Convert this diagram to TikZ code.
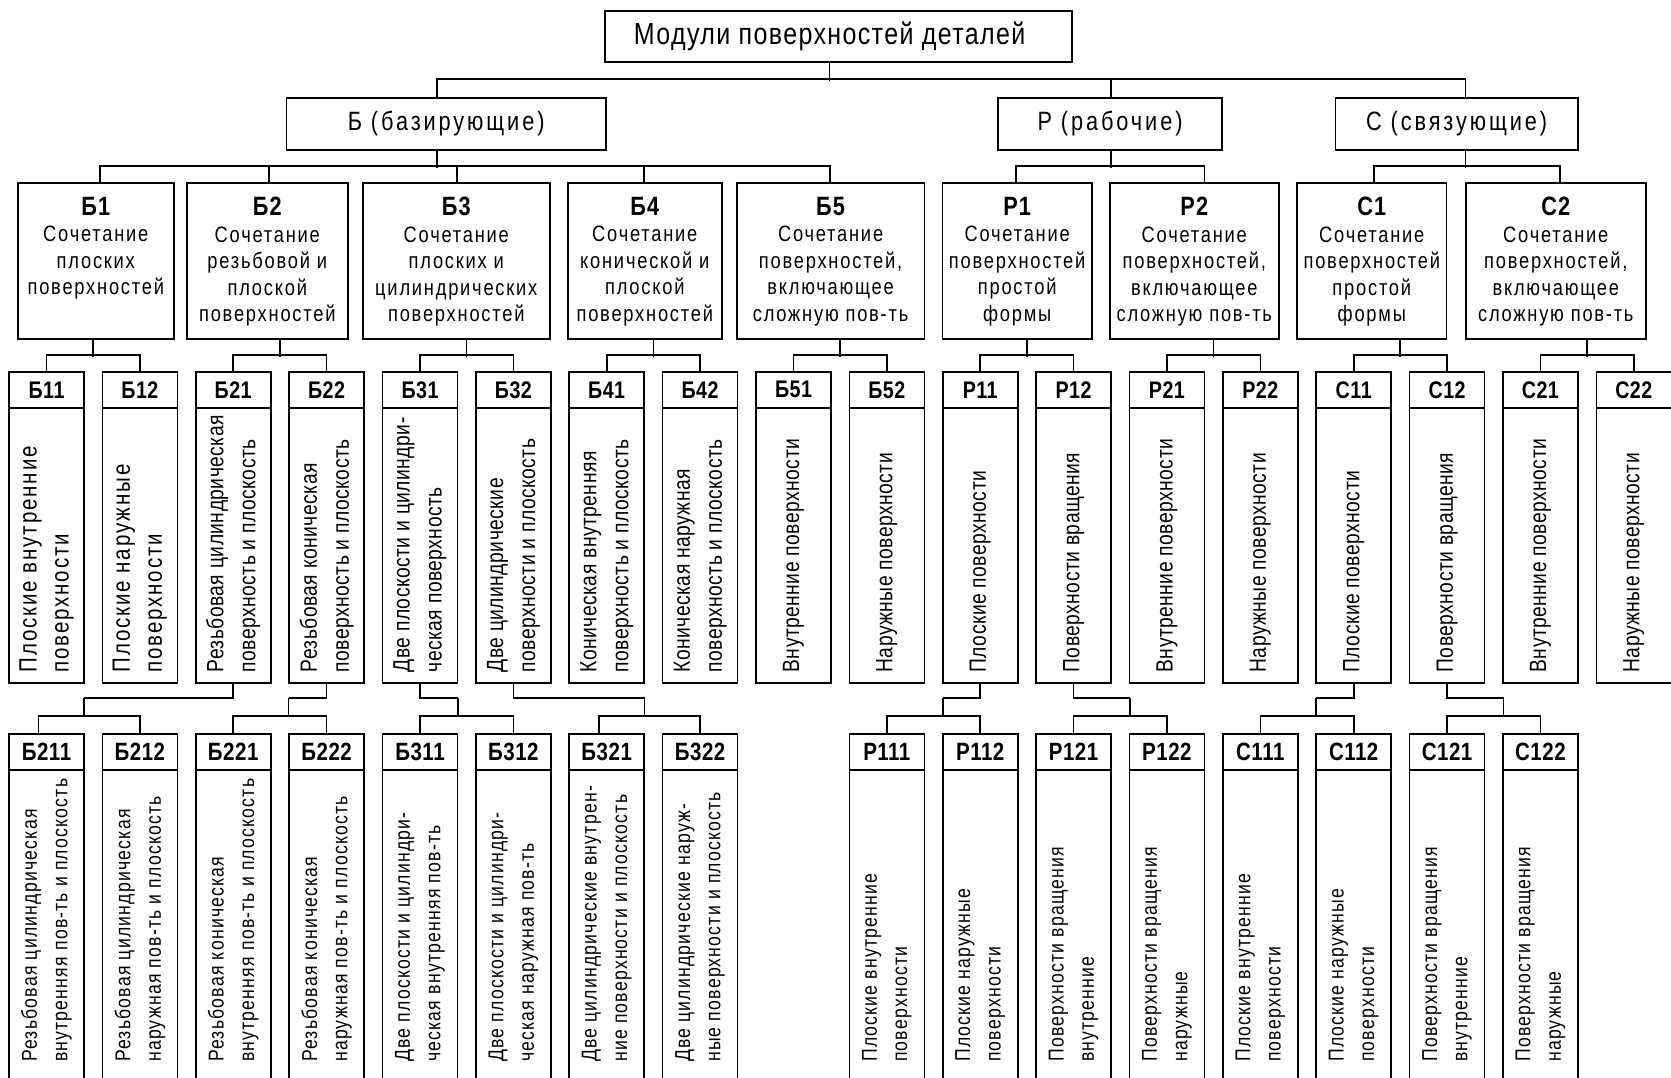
\documentclass[tikz,border=0pt]{standalone}
\usepackage{fontspec}
\setmainfont{Liberation Sans}[FakeStretch=0.82]
\newcommand\lsp[1]{\addfontfeatures{LetterSpace=#1}}
\newcommand\fs[2]{\fontsize{#1}{#2}\selectfont}
\tikzset{
  ln/.style={line width=1.6pt},
  bx/.style={draw, line width=1.6pt, inner sep=0pt, anchor=north west},
  hdr3/.style={bx, minimum width=75pt, minimum height=36pt, font=\bfseries\fs{24}{24}\lsp{2}},
  body3/.style={bx, minimum width=75pt, minimum height=275pt},
  hdr4/.style={bx, minimum width=75pt, minimum height=36pt, font=\bfseries\fs{25}{25}\lsp{2}},
  body4/.style={bx, minimum width=75pt, minimum height=340pt},
  l2t/.style={anchor=north, align=center, inner sep=0pt, font=\fs{22.3}{26.5}\lsp{8}},
  t3/.style={font=\fs{23.5}{32}\lsp{2}},
  t3w/.style={font=\fs{25}{32}\lsp{7.5}},
  t4/.style={font=\fs{21.5}{30.4}\lsp{5.6}},
  vt/.style={rotate=90, anchor=west, align=left, inner sep=0pt}
}
\newcommand\nodethree[5]{%
  \node[hdr3] (#1) at (#2,371) {#3};
  \node[body3] (#1b) at (#2,407) {};
  \node[vt,#5] (#1t) at ([yshift=11pt]#1b.south) {#4};
}
\newcommand\nodefour[4]{%
  \node[hdr4] (#1) at (#2,733) {#3};
  \node[body4] (#1b) at (#2,769) {};
  \node[vt,t4] (#1t) at ([yshift=-293pt]#1b.north) {#4};
}
\begin{document}
\begin{tikzpicture}[x=1pt,y=-1pt]
\useasboundingbox (0,0) rectangle (1671,1077);
\fill[white] (0,0) rectangle (1671,1077);
\clip (0,0) rectangle (1671,1077);

% level 0 and 1
\node[bx, minimum width=467.1pt, minimum height=51.3pt, font=\fs{30.5}{34}\lsp{4.5}] (root) at (604.3,10) {\hspace*{-18pt}Модули поверхностей деталей};
\node[bx, minimum width=319.3pt, minimum height=52pt, font=\fs{26.5}{30}\lsp{11}] (B) at (285.7,97) {Б (базирующие)};
\node[bx, minimum width=224.4pt, minimum height=52pt, font=\fs{26.5}{30}\lsp{11}] (R) at (997,97) {Р (рабочие)};
\node[bx, minimum width=242.4pt, minimum height=52pt, font=\fs{26.5}{30}\lsp{11}] (C) at (1334.6,97) {С (связующие)};

% level 2
\node[bx, minimum width=156pt, minimum height=156pt] (b1) at (17,182) {};
\node[bx, minimum width=161pt, minimum height=156pt] (b2) at (186,182) {};
\node[bx, minimum width=187pt, minimum height=156pt] (b3) at (362,182) {};
\node[bx, minimum width=154pt, minimum height=156pt] (b4) at (567,182) {};
\node[bx, minimum width=187.6pt, minimum height=156pt] (b5) at (736,182) {};
\node[bx, minimum width=149.2pt, minimum height=156pt] (r1) at (941.8,182) {};
\node[bx, minimum width=169pt, minimum height=156pt] (r2) at (1109,182) {};
\node[bx, minimum width=149.2pt, minimum height=156pt] (c1) at (1296.4,182) {};
\node[bx, minimum width=180pt, minimum height=156pt] (c2) at (1465,182) {};

\node[l2t] (b1t) at ([yshift=-15pt]b1.north) {{\bfseries\fs{26.5}{26.5}\lsp{4}Б1}\\Сочетание\\плоских\\поверхностей};
\node[l2t] (b2t) at ([yshift=-15pt]b2.north) {{\bfseries\fs{26.5}{26.5}\lsp{4}Б2}\\Сочетание\\резьбовой и\\плоской\\поверхностей};
\node[l2t] (b3t) at ([yshift=-15pt]b3.north) {{\bfseries\fs{26.5}{26.5}\lsp{4}Б3}\\Сочетание\\плоских и\\цилиндрических\\поверхностей};
\node[l2t] (b4t) at ([yshift=-15pt]b4.north) {{\bfseries\fs{26.5}{26.5}\lsp{4}Б4}\\Сочетание\\конической и\\плоской\\поверхностей};
\node[l2t] (b5t) at ([yshift=-15pt]b5.north) {{\bfseries\fs{26.5}{26.5}\lsp{4}Б5}\\Сочетание\\поверхностей,\\включающее\\сложную пов-ть};
\node[l2t] (r1t) at ([yshift=-15pt]r1.north) {{\bfseries\fs{26.5}{26.5}\lsp{4}Р1}\\Сочетание\\поверхностей\\простой\\формы};
\node[l2t] (r2t) at ([yshift=-15pt]r2.north) {{\bfseries\fs{26.5}{26.5}\lsp{4}Р2}\\Сочетание\\поверхностей,\\включающее\\сложную пов-ть};
\node[l2t] (c1t) at ([yshift=-15pt]c1.north) {{\bfseries\fs{26.5}{26.5}\lsp{4}С1}\\Сочетание\\поверхностей\\простой\\формы};
\node[l2t] (c2t) at ([yshift=-15pt]c2.north) {{\bfseries\fs{26.5}{26.5}\lsp{4}С2}\\Сочетание\\поверхностей,\\включающее\\сложную пов-ть};

% level 3
\nodethree{b11}{8.2}{Б11}{Плоские внутренние\\поверхности}{t3w}
\nodethree{b12}{101.6}{Б12}{Плоские наружные\\поверхности}{t3w}
\nodethree{b21}{194.9}{Б21}{Резьбовая цилиндрическая\\поверхность и плоскость}{t3}
\nodethree{b22}{288.3}{Б22}{Резьбовая коническая\\поверхность и плоскость}{t3}
\nodethree{b31}{381.7}{Б31}{Две плоскости и цилиндри-\\ческая поверхность}{t3}
\nodethree{b32}{475.1}{Б32}{Две цилиндрические\\поверхности и плоскость}{t3}
\nodethree{b41}{568.4}{Б41}{Коническая внутренняя\\поверхность и плоскость}{t3}
\nodethree{b42}{661.8}{Б42}{Коническая наружная\\поверхность и плоскость}{t3}
\nodethree{b51}{755.2}{Б51}{Внутренние поверхности}{t3}
\nodethree{b52}{848.5}{Б52}{Наружные поверхности}{t3}
\nodethree{r11}{941.9}{Р11}{Плоские поверхности}{t3}
\nodethree{r12}{1035.3}{Р12}{Поверхности вращения}{t3}
\nodethree{r21}{1128.6}{Р21}{Внутренние поверхности}{t3}
\nodethree{r22}{1222.0}{Р22}{Наружные поверхности}{t3}
\nodethree{c11}{1315.4}{С11}{Плоские поверхности}{t3}
\nodethree{c12}{1408.8}{С12}{Поверхности вращения}{t3}
\nodethree{c21}{1502.1}{С21}{Внутренние поверхности}{t3}
\nodethree{c22}{1595.5}{С22}{Наружные поверхности}{t3}

% level 4
\nodefour{b211}{8.2}{Б211}{Резьбовая цилиндрическая\\внутренняя пов-ть и плоскость}
\nodefour{b212}{101.6}{Б212}{Резьбовая цилиндрическая\\наружная пов-ть и плоскость}
\nodefour{b221}{194.9}{Б221}{Резьбовая коническая\\внутренняя пов-ть и плоскость}
\nodefour{b222}{288.3}{Б222}{Резьбовая коническая\\наружная пов-ть и плоскость}
\nodefour{b311}{381.7}{Б311}{Две плоскости и цилиндри-\\ческая внутренняя пов-ть}
\nodefour{b312}{475.1}{Б312}{Две плоскости и цилиндри-\\ческая наружная пов-ть}
\nodefour{b321}{568.4}{Б321}{Две цилиндрические внутрен-\\ние поверхности и плоскость}
\nodefour{b322}{661.8}{Б322}{Две цилиндрические наруж-\\ные поверхности и плоскость}
\nodefour{r111}{848.5}{Р111}{Плоские внутренние\\поверхности}
\nodefour{r112}{941.9}{Р112}{Плоские наружные\\поверхности}
\nodefour{r121}{1035.3}{Р121}{Поверхности вращения\\внутренние}
\nodefour{r122}{1128.6}{Р122}{Поверхности вращения\\наружные}
\nodefour{c111}{1222.0}{С111}{Плоские внутренние\\поверхности}
\nodefour{c112}{1315.4}{С112}{Плоские наружные\\поверхности}
\nodefour{c121}{1408.8}{С121}{Поверхности вращения\\внутренние}
\nodefour{c122}{1502.1}{С122}{Поверхности вращения\\наружные}

% connectors: root -> level 1
\draw[ln] ([xshift=-9pt]root.south) -- ++(0,17.7);
\draw[ln] ([xshift=-9pt]B.north) -- ++(0,-18) -| ([xshift=9pt]C.north);
\draw[ln] ([xshift=1pt]R.north) -- ++(0,-18);

% level 1 -> level 2
\draw[ln] ([xshift=-9pt]B.south) -- ++(0,17);
\draw[ln] ([xshift=4pt]b1.north) -- ++(0,-16) -| ([xshift=-0.8pt]b5.north);
\draw[ln] ([xshift=1.5pt]b2.north) -- ++(0,-16);
\draw[ln] ([xshift=0.5pt]b3.north) -- ++(0,-16);
\draw[ln] ([xshift=-1pt]b4.north) -- ++(0,-16);
\draw[ln] ([xshift=1pt]R.south) -- ++(0,17);
\draw[ln] ([xshift=-1.4pt]r1.north) -- ++(0,-16) -| ([xshift=10.2pt]r2.north);
\draw[ln] ([xshift=9pt]C.south) -- ++(0,17);
\draw[ln] ([xshift=2pt]c1.north) -- ++(0,-16) -| ([xshift=4pt]c2.north);

% level 2 -> level 3
\draw[ln] ([xshift=-2.6pt]b1.south) -- ++(0,17);
\draw[ln] ([xshift=12.6pt]b2.south) -- ++(0,17);
\draw[ln] ([xshift=10.3pt]b3.south) -- ++(0,17);
\draw[ln] ([xshift=8.5pt]b4.south) -- ++(0,17);
\draw[ln] ([xshift=9.4pt]b5.south) -- ++(0,17);
\draw[ln] ([xshift=9.5pt]r1.south) -- ++(0,17);
\draw[ln] ([xshift=19.1pt]r2.south) -- ++(0,17);
\draw[ln] ([xshift=28.4pt]c1.south) -- ++(0,17);
\draw[ln] ([xshift=31.1pt]c2.south) -- ++(0,17);
\draw[ln] (b11.north) -- ++(0,-16) -| (b12.north);
\draw[ln] (b21.north) -- ++(0,-16) -| (b22.north);
\draw[ln] (b31.north) -- ++(0,-16) -| (b32.north);
\draw[ln] (b41.north) -- ++(0,-16) -| (b42.north);
\draw[ln] (b51.north) -- ++(0,-16) -| (b52.north);
\draw[ln] (r11.north) -- ++(0,-16) -| (r12.north);
\draw[ln] (r21.north) -- ++(0,-16) -| (r22.north);
\draw[ln] (c11.north) -- ++(0,-16) -| (c12.north);
\draw[ln] (c21.north) -- ++(0,-16) -| (c22.north);

% level 3 -> level 4
\coordinate (jb21) at (84,698);
\coordinate (jb22) at (288.6,698);
\coordinate (jb31) at (457.9,698);
\coordinate (jb32) at (644.6,698);
\coordinate (jr11) at (943,698);
\coordinate (jr12) at (1129.7,698);
\coordinate (jc11) at (1316,698);
\coordinate (jc12) at (1503.6,698);
\foreach \j in {b21,b22,b31,b32,r11,r12,c11,c12}{
  \draw[ln] (\j b.south) |- (j\j);
  \draw[ln] (j\j) -- ++(0,18);
}
\draw[ln] ([xshift=-8pt]b211.north) -- ++(0,-17) -| (b212.north);
\draw[ln] (b221.north) -- ++(0,-17) -| (b222.north);
\draw[ln] (b311.north) -- ++(0,-17) -| (b312.north);
\draw[ln] ([xshift=-8pt]b321.north) -- ++(0,-17) -| (b322.north);
\draw[ln] (r111.north) -- ++(0,-17) -| (r112.north);
\draw[ln] (r121.north) -- ++(0,-17) -| (r122.north);
\draw[ln] (c111.north) -- ++(0,-17) -| (c112.north);
\draw[ln] (c121.north) -- ++(0,-17) -| (c122.north);
\end{tikzpicture}
\end{document}
